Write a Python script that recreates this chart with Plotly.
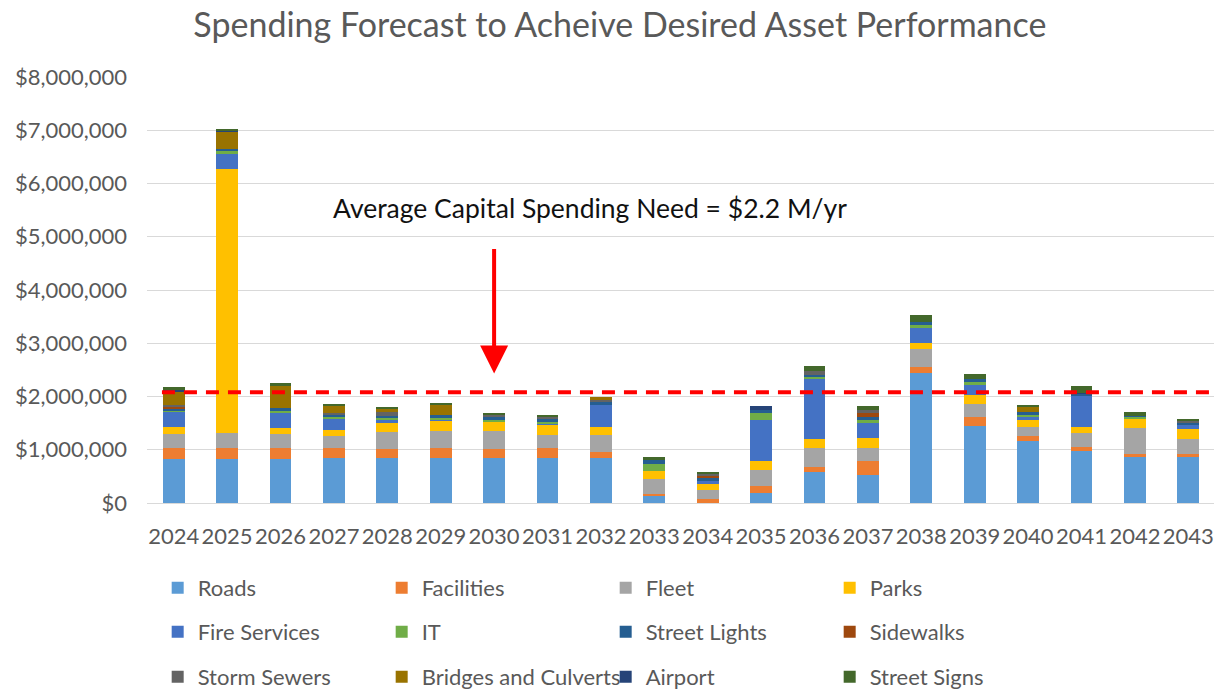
import plotly.graph_objects as go

years = [str(y) for y in range(2024, 2044)]

roads = [825000, 825000, 825000, 840000, 840000, 840000, 840000, 840000, 840000, 125000,
         0, 190000, 575000, 530000, 2450000, 1450000, 1160000, 970000, 860000, 860000]
facilities = [200000, 200000, 200000, 190000, 175000, 190000, 175000, 190000, 125000, 50000,
              75000, 125000, 110000, 250000, 100000, 160000, 105000, 90000, 60000, 60000]
fleet = [280000, 290000, 280000, 230000, 325000, 330000, 340000, 250000, 310000, 280000,
         170000, 310000, 340000, 250000, 340000, 240000, 160000, 250000, 480000, 275000]
parks = [125000, 4960000, 100000, 110000, 170000, 190000, 175000, 190000, 156000, 140000,
         110000, 170000, 180000, 190000, 110000, 175000, 140000, 110000, 190000, 190000]
fire_services = [280000, 280000, 280000, 200000, 50000, 20000, 0, 20000, 410000, 0,
                 60000, 760000, 1130000, 290000, 290000, 190000, 60000, 600000, 0, 80000]
it = [30000, 50000, 40000, 40000, 30000, 30000, 30000, 30000, 0, 140000,
      0, 140000, 40000, 50000, 50000, 60000, 30000, 0, 30000, 0]
street_lights = [30000, 40000, 50000, 40000, 50000, 60000, 70000, 70000, 60000, 80000,
                 60000, 60000, 30000, 50000, 60000, 45000, 60000, 30000, 20000, 40000]
sidewalks = [40000, 0, 0, 0, 0, 0, 0, 0, 0, 0,
             30000, 0, 0, 75000, 0, 0, 0, 0, 0, 0]
storm_sewers = [30000, 0, 0, 40000, 60000, 0, 30000, 30000, 30000, 0,
                50000, 0, 80000, 60000, 0, 0, 0, 0, 0, 30000]
bridges_culverts = [250000, 330000, 440000, 125000, 60000, 175000, 0, 0, 60000, 0,
                    0, 0, 0, 0, 0, 0, 90000, 0, 0, 0]
airport = [30000, 20000, 0, 0, 0, 0, 0, 0, 0, 0,
           0, 75000, 0, 0, 0, 0, 0, 20000, 0, 0]
street_signs = [50000, 20000, 30000, 50000, 50000, 50000, 20000, 20000, 0, 50000,
                20000, 0, 80000, 75000, 140000, 110000, 30000, 130000, 75000, 40000]

average_line_value = 2080000
title_text = "Spending Forecast to Acheive Desired Asset Performance"
note_text = "Average Capital Spending Need = $2.2 M/yr"

series = [
    ("Roads", roads, "#5B9BD5", "legend"),
    ("Facilities", facilities, "#ED7D31", "legend"),
    ("Fleet", fleet, "#A5A5A5", "legend"),
    ("Parks", parks, "#FFC000", "legend"),
    ("Fire Services", fire_services, "#4472C4", "legend2"),
    ("IT", it, "#70AD47", "legend2"),
    ("Street Lights", street_lights, "#255E91", "legend2"),
    ("Sidewalks", sidewalks, "#9E480E", "legend2"),
    ("Storm Sewers", storm_sewers, "#636363", "legend3"),
    ("Bridges and Culverts", bridges_culverts, "#997300", "legend3"),
    ("Airport", airport, "#264478", "legend3"),
    ("Street Signs", street_signs, "#43682B", "legend3"),
]

FONT = "Lato, 'Open Sans', sans-serif"
GRAY = "#595959"

fig = go.Figure()
for name, vals, color, leg in series:
    fig.add_trace(go.Bar(x=years, y=vals, name=name, marker=dict(color=color, line=dict(width=0)),
                         legend=leg))

# average line
fig.add_shape(type="line", xref="x", yref="y", x0=-0.22, x1=19.45,
              y0=average_line_value, y1=average_line_value,
              line=dict(color="#FF0000", width=4, dash="13px,9px"), layer="above")

# text annotation
fig.add_annotation(x=7.8, y=5540000, xref="x", yref="y", text=note_text, showarrow=False,
                   font=dict(family=FONT, size=26.5, color="#111111"))
# arrow
fig.add_annotation(x=6.0, y=2430000, ax=6.0, ay=4800000, xref="x", yref="y",
                   axref="x", ayref="y", text="", showarrow=True,
                   arrowhead=2, arrowsize=1.4, arrowwidth=4, arrowcolor="#FF0000")

legend_common = dict(orientation="h", xanchor="left", yanchor="middle", yref="container",
                     entrywidth=179, entrywidthmode="pixels", traceorder="normal",
                     font=dict(family=FONT, size=22, color=GRAY),
                     bgcolor="rgba(0,0,0,0)", itemwidth=30)

fig.update_layout(
    width=1214, height=683,
    margin=dict(l=132, r=7, t=69, b=188),
    paper_bgcolor="white", plot_bgcolor="white",
    barmode="stack", bargap=0.59,
    title=dict(text=title_text, x=0.504, xanchor="center", y=0.975, yanchor="middle",
               font=dict(family=FONT, size=34, color=GRAY)),
    xaxis=dict(type="category", tickfont=dict(family=FONT, size=22, color=GRAY),
               showgrid=False, showline=True, linecolor="#D9D9D9", linewidth=1,
               ticks="", range=[-0.5, 19.5], ticklabelstandoff=14),
    yaxis=dict(range=[0, 8000000], dtick=1000000, tickformat="$,.0f",
               tickfont=dict(family=FONT, size=22, color=GRAY),
               showgrid=True, gridcolor="#D9D9D9", gridwidth=1, zeroline=False,
               ticks="", ticklabelstandoff=19),
    legend=dict(x=0.0100, y=0.1508, **legend_common),
    legend2=dict(x=0.0100, y=0.0864, **legend_common),
    legend3=dict(x=0.0100, y=0.0205, **legend_common),
    showlegend=True,
)

fig.write_html("out.html")
